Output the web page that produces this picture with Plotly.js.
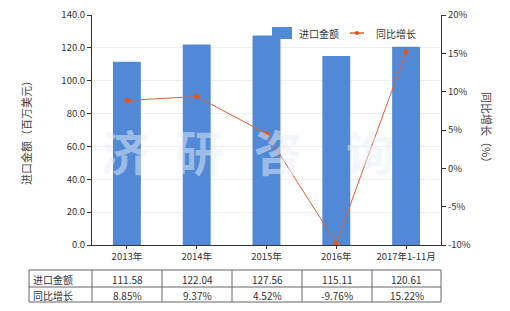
<!DOCTYPE html>
<html><head><meta charset="utf-8">
<script src="https://cdn.plot.ly/plotly-3.0.1.min.js"></script>
<style>body{margin:0;padding:0;background:#fff}#c{width:510px;height:311px}</style>
</head><body><div id="c"></div>
<script>
const categories = ["2013年","2014年","2015年","2016年","2017年1-11月"];
const importValues = [111.58,122.04,127.56,115.11,120.61];
const yoyGrowth = [8.85,9.37,4.52,-9.76,15.22];
const importLabels = ["111.58","122.04","127.56","115.11","120.61"];
const growthLabels = ["8.85%","9.37%","4.52%","-9.76%","15.22%"];
const rowNames = ["进口金额","同比增长"];
const seriesNames = ["进口金额","同比增长"];
const y2TickVals = [-10,-5,0,5,10,15,20];
const y2TickText = ["-10%","-5%","0%","5%","10%","15%","20%"];

const FONT = "Noto Sans CJK SC, Microsoft YaHei, sans-serif";
const L = 92, R = 441, T = 15, B = 245, W = 510, H = 311;
const px2x = p => (p - L) / (R - L);
const py2y = p => (B - p) / (B - T);
const BAR = "#5189d6", LINE = "#d8632e";

const traces = [
  {type:"bar", name:seriesNames[0], x:categories, y:importValues,
   marker:{color:BAR}, width:0.4, yaxis:"y"},
  {type:"scatter", mode:"lines+markers", name:seriesNames[1], x:categories, y:yoyGrowth,
   line:{color:LINE, width:1}, marker:{color:"#e0561b", size:5, symbol:"circle"}, yaxis:"y2"}
];

// table geometry
const colEdges = [29, 92, 162, 232, 302, 372, 441];
const rowEdges = [270, 287, 302];
const shapes = [];
rowEdges.forEach(r => shapes.push({type:"line", xref:"paper", yref:"paper",
  x0:px2x(colEdges[0]), x1:px2x(colEdges[colEdges.length-1]), y0:py2y(r), y1:py2y(r),
  line:{color:"#666", width:1}}));
colEdges.forEach(c => shapes.push({type:"line", xref:"paper", yref:"paper",
  x0:px2x(c), x1:px2x(c), y0:py2y(rowEdges[0]), y1:py2y(rowEdges[rowEdges.length-1]),
  line:{color:"#666", width:1}}));

// custom legend
shapes.push({type:"rect", xref:"paper", yref:"paper", x0:px2x(272), x1:px2x(292),
  y0:py2y(39), y1:py2y(27), line:{width:0}, fillcolor:BAR});
shapes.push({type:"line", xref:"paper", yref:"paper", x0:px2x(350), x1:px2x(364),
  y0:py2y(33), y1:py2y(33), line:{color:LINE, width:1.5}});
shapes.push({type:"circle", xref:"paper", yref:"paper", x0:px2x(355), x1:px2x(359),
  y0:py2y(35), y1:py2y(31), line:{width:0}, fillcolor:"#e0561b"});

const annotations = [];
annotations.push({xref:"paper", yref:"paper", x:px2x(297), y:py2y(33), text:seriesNames[0],
  showarrow:false, xanchor:"left", yanchor:"middle", font:{family:FONT, size:10, color:"#333"}});
annotations.push({xref:"paper", yref:"paper", x:px2x(374), y:py2y(33), text:seriesNames[1],
  showarrow:false, xanchor:"left", yanchor:"middle", font:{family:FONT, size:10, color:"#333"}});

const rows = [importLabels, growthLabels];
rows.forEach((vals, ri) => {
  const yc = py2y((rowEdges[ri] + rowEdges[ri+1]) / 2 + 1);
  annotations.push({xref:"paper", yref:"paper", x:px2x(colEdges[0] + 2), y:yc,
    text:rowNames[ri], showarrow:false, xanchor:"left", yanchor:"middle",
    font:{family:FONT, size:10, color:"#333"}});
  vals.forEach((v, ci) => {
    annotations.push({xref:"paper", yref:"paper",
      x:px2x((colEdges[ci+1] + colEdges[ci+2]) / 2), y:yc,
      text:v, showarrow:false, xanchor:"center", yanchor:"middle",
      font:{family:FONT, size:10, color:"#333"}});
  });
});
// axis titles
annotations.push({xref:"paper", yref:"paper", x:px2x(26), y:py2y(130), text:"进口金额（百万美元）",
  textangle:-90, xanchor:"center", yanchor:"middle", showarrow:false,
  font:{family:FONT, size:11, color:"#444"}});
annotations.push({xref:"paper", yref:"paper", x:px2x(487), y:py2y(130), text:"同比增长（%）",
  textangle:90, xanchor:"center", yanchor:"middle", showarrow:false,
  font:{family:FONT, size:11, color:"#444"}});
// watermark
const wmChars = ["济","研","咨","询"], wmX = [125,199,278,370];
wmChars.forEach((ch, i) => annotations.push({xref:"paper", yref:"paper", x:px2x(wmX[i]), y:py2y(150),
  text:"<b>"+ch+"</b>", showarrow:false, xanchor:"center", yanchor:"middle",
  font:{family:FONT, size:48, color:"rgba(232,239,250,0.5)"}}));

const layout = {
  width:W, height:H, margin:{l:L, r:W-R, t:T, b:H-B},
  paper_bgcolor:"#fff", plot_bgcolor:"#fff",
  font:{family:FONT, size:10, color:"#333"},
  showlegend:false,
  xaxis:{type:"category", showline:true, linecolor:"#333", linewidth:1,
    ticks:"outside", ticklen:3, tickcolor:"#333", showgrid:false,
    tickfont:{family:FONT, size:9.5, color:"#333"}},
  yaxis:{range:[0,140], dtick:20, tickformat:".1f", showline:true, linecolor:"#333",
    ticks:"outside", ticklen:4, tickcolor:"#333", gridcolor:"#eeeeee", zeroline:false,
    tickfont:{family:FONT, size:9.5, color:"#333"}},
  yaxis2:{overlaying:"y", side:"right", range:[-10,20], tickmode:"array",
    tickvals:y2TickVals, ticktext:y2TickText,
    showline:true, linecolor:"#333", ticks:"outside", ticklen:4, tickcolor:"#333",
    showgrid:false, zeroline:false, tickfont:{family:FONT, size:9.5, color:"#333"}},
  shapes:shapes, annotations:annotations
};
Plotly.newPlot("c", traces, layout, {displayModeBar:false, staticPlot:true});
</script></body></html>
